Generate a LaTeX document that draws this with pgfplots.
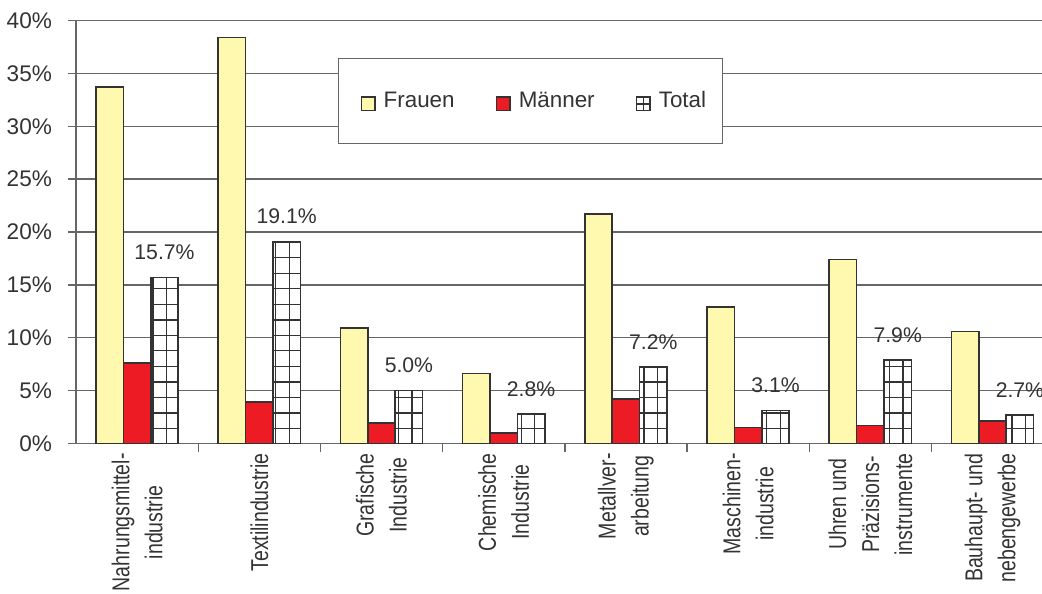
\documentclass[border=0pt]{standalone}
\usepackage{fontspec}
\setmainfont{Liberation Sans}
\newfontfamily\catfont{Liberation Sans}[FakeStretch=0.8]
\usepackage{pgfplots}
\pgfplotsset{compat=1.18}

\definecolor{frauen}{HTML}{FFF9B0}
\definecolor{maenner}{HTML}{ED1C24}
\definecolor{edge}{HTML}{333333}
\definecolor{txt}{HTML}{333333}
\definecolor{axgray}{HTML}{666666}

\tikzset{gridline/.style={draw=edge, line width=0.7pt, path picture={}}}

% grid drawn inside the Total bars (clipped to the bars)
\pgfplotsset{
    totalgrid/.style={
        path picture={
            \foreach \k in {0,...,28} {
                \pgfmathsetmacro\gy{(7.5+7.75*\k)/211.3}
                \path[gridline] (rel axis cs:0,\gy) -- (rel axis cs:1,\gy);
            }
            \foreach \k in {0,...,7} {
                \pgfmathsetmacro\gx{0.2405+1.00442*\k}
                \pgfmathsetmacro\gxx{0.1299+1.00442*\k}
                \path[gridline] (axis cs:\gx,0) -- (axis cs:\gx,40);
                \path[gridline] (axis cs:\gxx,0) -- (axis cs:\gxx,40);
            }
        }
    },
    legfrauen/.style={legend image code/.code={
        \path (0pt,0pt);
        \draw[fill=frauen, draw=edge, line width=0.7pt] (5pt,-4.8pt) rectangle (11.8pt,2pt);}},
    legmaenner/.style={legend image code/.code={
        \path (0pt,0pt);
        \draw[fill=maenner, draw=edge, line width=0.7pt] (5pt,-4.8pt) rectangle (11.8pt,2pt);}},
    legtotal/.style={legend image code/.code={
        \path (0pt,0pt);
        \draw[edge, line width=0.7pt, fill=white, path picture={}] (5pt,-4.8pt) rectangle (11.8pt,2pt);
        \draw[edge, line width=0.7pt, path picture={}] (8.4pt,-4.8pt) -- (8.4pt,2pt) (5pt,-1.4pt) -- (11.8pt,-1.4pt);}},
}

\begin{document}
\begin{tikzpicture}
\begin{axis}[
    scale only axis,
    width=483pt, height=211.3pt,
    xmin=-0.5, xmax=7.405,
    ymin=0, ymax=40,
    axis x line=bottom, axis y line=left,
    axis line style={-, draw=axgray, line width=0.7pt},
    ybar=0pt, bar width=13.7pt,
    /pgf/number format/assume math mode=true,
    ytick={0,5,...,40},
    yticklabel={\pgfmathprintnumber{\tick}\%},
    yticklabel style={font=\fontsize{11.3}{13}\selectfont, text=txt},
    yticklabel shift=4.5pt,
    ymajorgrids,
    major grid style={draw=axgray, line width=0.7pt},
    xtick={0,...,7},
    xticklabels={{Nahrungsmittel-\\industrie},{Textilindustrie},{Grafische\\Industrie},{Chemische\\Industrie},{Metallver-\\arbeitung},{Maschinen-\\industrie},{Uhren und\\Präzisions-\\instrumente},{Bauhaupt- und\\nebengewerbe}},
    xticklabel style={rotate=90, anchor=east, align=center, text=txt,
        font=\catfont\fontsize{12.2}{16.5}\selectfont},
    xticklabel shift=-2.5pt,
    minor xtick={0.5,1.5,...,6.5},
    tick align=outside,
    major tick length=4pt, minor tick length=4.5pt,
    tick style={draw=axgray, line width=0.7pt},
    major x tick style={draw=none},
    legend columns=3,
    legend style={at={(0.2712,0.912)}, anchor=north west,
        draw=axgray, line width=0.6pt, inner xsep=6pt, inner ysep=14.5pt,
        font=\fontsize{11.2}{13}\selectfont, text=txt,
        /tikz/every odd column/.append style={column sep=2pt},
        /tikz/every even column/.append style={column sep=13.5pt}},
]
\addplot[fill=frauen, draw=edge, line width=0.8pt, bar shift=-13.7pt, legfrauen]
    coordinates {(0,33.7) (1,38.4) (2,10.9) (3,6.6) (4,21.7) (5,12.9) (6,17.4) (7,10.6)};
\addplot[fill=maenner, draw=edge, line width=0.8pt, bar shift=0pt, legmaenner]
    coordinates {(0,7.6) (1,3.9) (2,1.9) (3,1.0) (4,4.2) (5,1.5) (6,1.7) (7,2.1)};
\addplot[fill=white, draw=edge, line width=0.8pt, bar shift=13.7pt, totalgrid, legtotal]
    coordinates {(0,15.7) (1,19.1) (2,5.0) (3,2.8) (4,7.2) (5,3.1) (6,7.9) (7,2.7)};
\addplot[forget plot, draw=none, fill=none, bar shift=13.7pt,
    nodes near coords={\pgfmathprintnumber[fixed,fixed zerofill,precision=1]{\pgfplotspointmeta}\%},
    every node near coord/.append style={anchor=base, yshift=8.8pt, inner sep=0pt,
        text=txt, font=\fontsize{10.6}{12}\selectfont}]
    coordinates {(0,15.7) (1,19.1) (2,5.0) (3,2.8) (4,7.2) (5,3.1) (6,7.9) (7,2.7)};
\legend{Frauen, Männer, Total}
\end{axis}
\pgfresetboundingbox
\path (-38pt,-75pt) rectangle (483pt,221.65pt);
\end{tikzpicture}
\end{document}
